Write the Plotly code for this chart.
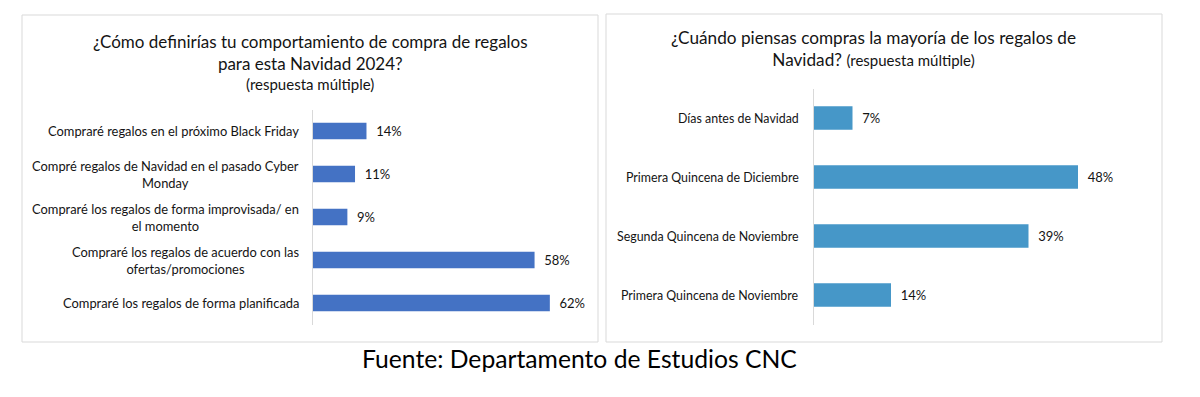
import plotly.graph_objects as go

W, H = 1200, 397

# ---- data ----
left_categories = [
    "Compraré regalos en el próximo Black Friday",
    "Compré regalos de Navidad en el pasado Cyber<br>Monday",
    "Compraré los regalos de forma improvisada/ en<br>el momento",
    "Compraré los regalos de acuerdo con las<br>ofertas/promociones",
    "Compraré los regalos de forma planificada",
]
left_values = [14, 11, 9, 58, 62]

right_categories = [
    "Días antes de Navidad",
    "Primera Quincena de Diciembre",
    "Segunda Quincena de Noviembre",
    "Primera Quincena de Noviembre",
]
right_values = [7, 48, 39, 14]

left_title = "¿Cómo definirías tu comportamiento de compra de regalos<br>para esta Navidad 2024?"
left_subtitle = "(respuesta múltiple)"
right_title = "¿Cuándo piensas compras la mayoría de los regalos de<br>Navidad? <span style='font-size:15px'>(respuesta múltiple)</span>"
footer = "Fuente: Departamento de Estudios CNC"

FONT = "Lato, 'Noto Sans', sans-serif"
TXT = "#141414"
LEFT_COLOR = "#4472C4"
RIGHT_COLOR = "#4697C8"
GRID = "#D9D9D9"

def px_x(p):
    return p / W

def px_y(p):
    return 1 - p / H

fig = go.Figure()

fig.add_trace(go.Bar(
    x=left_values, y=left_categories, orientation="h",
    marker=dict(color=LEFT_COLOR, line=dict(width=0)),
    width=0.38,
    text=["\u00a0\u00a0" + f"{v}%" for v in left_values], textposition="outside",
    textfont=dict(family=FONT, size=13, color=TXT),
    cliponaxis=False, xaxis="x", yaxis="y", hoverinfo="skip",
))
fig.add_trace(go.Bar(
    x=right_values, y=right_categories, orientation="h",
    marker=dict(color=RIGHT_COLOR, line=dict(width=0)),
    width=0.40,
    text=["\u00a0\u00a0" + f"{v}%" for v in right_values], textposition="outside",
    textfont=dict(family=FONT, size=13, color=TXT),
    cliponaxis=False, xaxis="x2", yaxis="y2", hoverinfo="skip",
))

annotations = []
for c in left_categories:
    annotations.append(dict(
        x=px_x(301), xref="paper", y=c, yref="y", text=c, showarrow=False,
        xanchor="right", yanchor="middle", align="center",
        font=dict(family=FONT, size=12.9, color=TXT),
    ))
for c in right_categories:
    annotations.append(dict(
        x=px_x(801), xref="paper", y=c, yref="y2", text=c, showarrow=False,
        xanchor="right", yanchor="middle", align="center",
        font=dict(family=FONT, size=12.4, color=TXT),
    ))

annotations += [
    dict(x=px_x(310), y=px_y(53), xref="paper", yref="paper", text=left_title,
         showarrow=False, xanchor="center", yanchor="middle", align="center",
         font=dict(family=FONT, size=17, color=TXT)),
    dict(x=px_x(310), y=px_y(84), xref="paper", yref="paper", text=left_subtitle,
         showarrow=False, xanchor="center", yanchor="middle", align="center",
         font=dict(family=FONT, size=15, color=TXT)),
    dict(x=px_x(873), y=px_y(49), xref="paper", yref="paper", text=right_title,
         showarrow=False, xanchor="center", yanchor="middle", align="center",
         font=dict(family=FONT, size=17.2, color=TXT)),
    dict(x=px_x(579), y=px_y(358), xref="paper", yref="paper", text=footer,
         showarrow=False, xanchor="center", yanchor="middle",
         font=dict(family=FONT, size=24.7, color="#000000")),
]

shapes = [
    dict(type="rect", xref="paper", yref="paper",
         x0=px_x(22), x1=px_x(598), y0=px_y(342), y1=px_y(15),
         line=dict(color=GRID, width=1), fillcolor="rgba(0,0,0,0)", layer="below"),
    dict(type="rect", xref="paper", yref="paper",
         x0=px_x(606), x1=px_x(1162), y0=px_y(342), y1=px_y(14),
         line=dict(color=GRID, width=1), fillcolor="rgba(0,0,0,0)", layer="below"),
]

fig.update_layout(
    width=W, height=H,
    margin=dict(l=0, r=0, t=0, b=0),
    paper_bgcolor="white", plot_bgcolor="white",
    showlegend=False,
    annotations=annotations, shapes=shapes,
    xaxis=dict(domain=[px_x(313), px_x(580)], range=[0, (580 - 313) / 3.82],
               visible=False, fixedrange=True),
    yaxis=dict(domain=[px_y(324.5), px_y(109.5)], anchor="x",
               categoryorder="array", categoryarray=left_categories,
               range=[len(left_categories) - 0.5, -0.5],
               showticklabels=False, showgrid=False, zeroline=False,
               showline=True, linecolor=GRID, linewidth=1, ticks=""),
    xaxis2=dict(domain=[px_x(814), px_x(1140)], range=[0, (1140 - 814) / 5.5],
                visible=False, fixedrange=True, anchor="y2"),
    yaxis2=dict(domain=[px_y(324.5), px_y(88.5)], anchor="x2",
                categoryorder="array", categoryarray=right_categories,
                range=[len(right_categories) - 0.5, -0.5],
                showticklabels=False, showgrid=False, zeroline=False,
                showline=True, linecolor=GRID, linewidth=1, ticks=""),
)

fig.write_html("out.html")
